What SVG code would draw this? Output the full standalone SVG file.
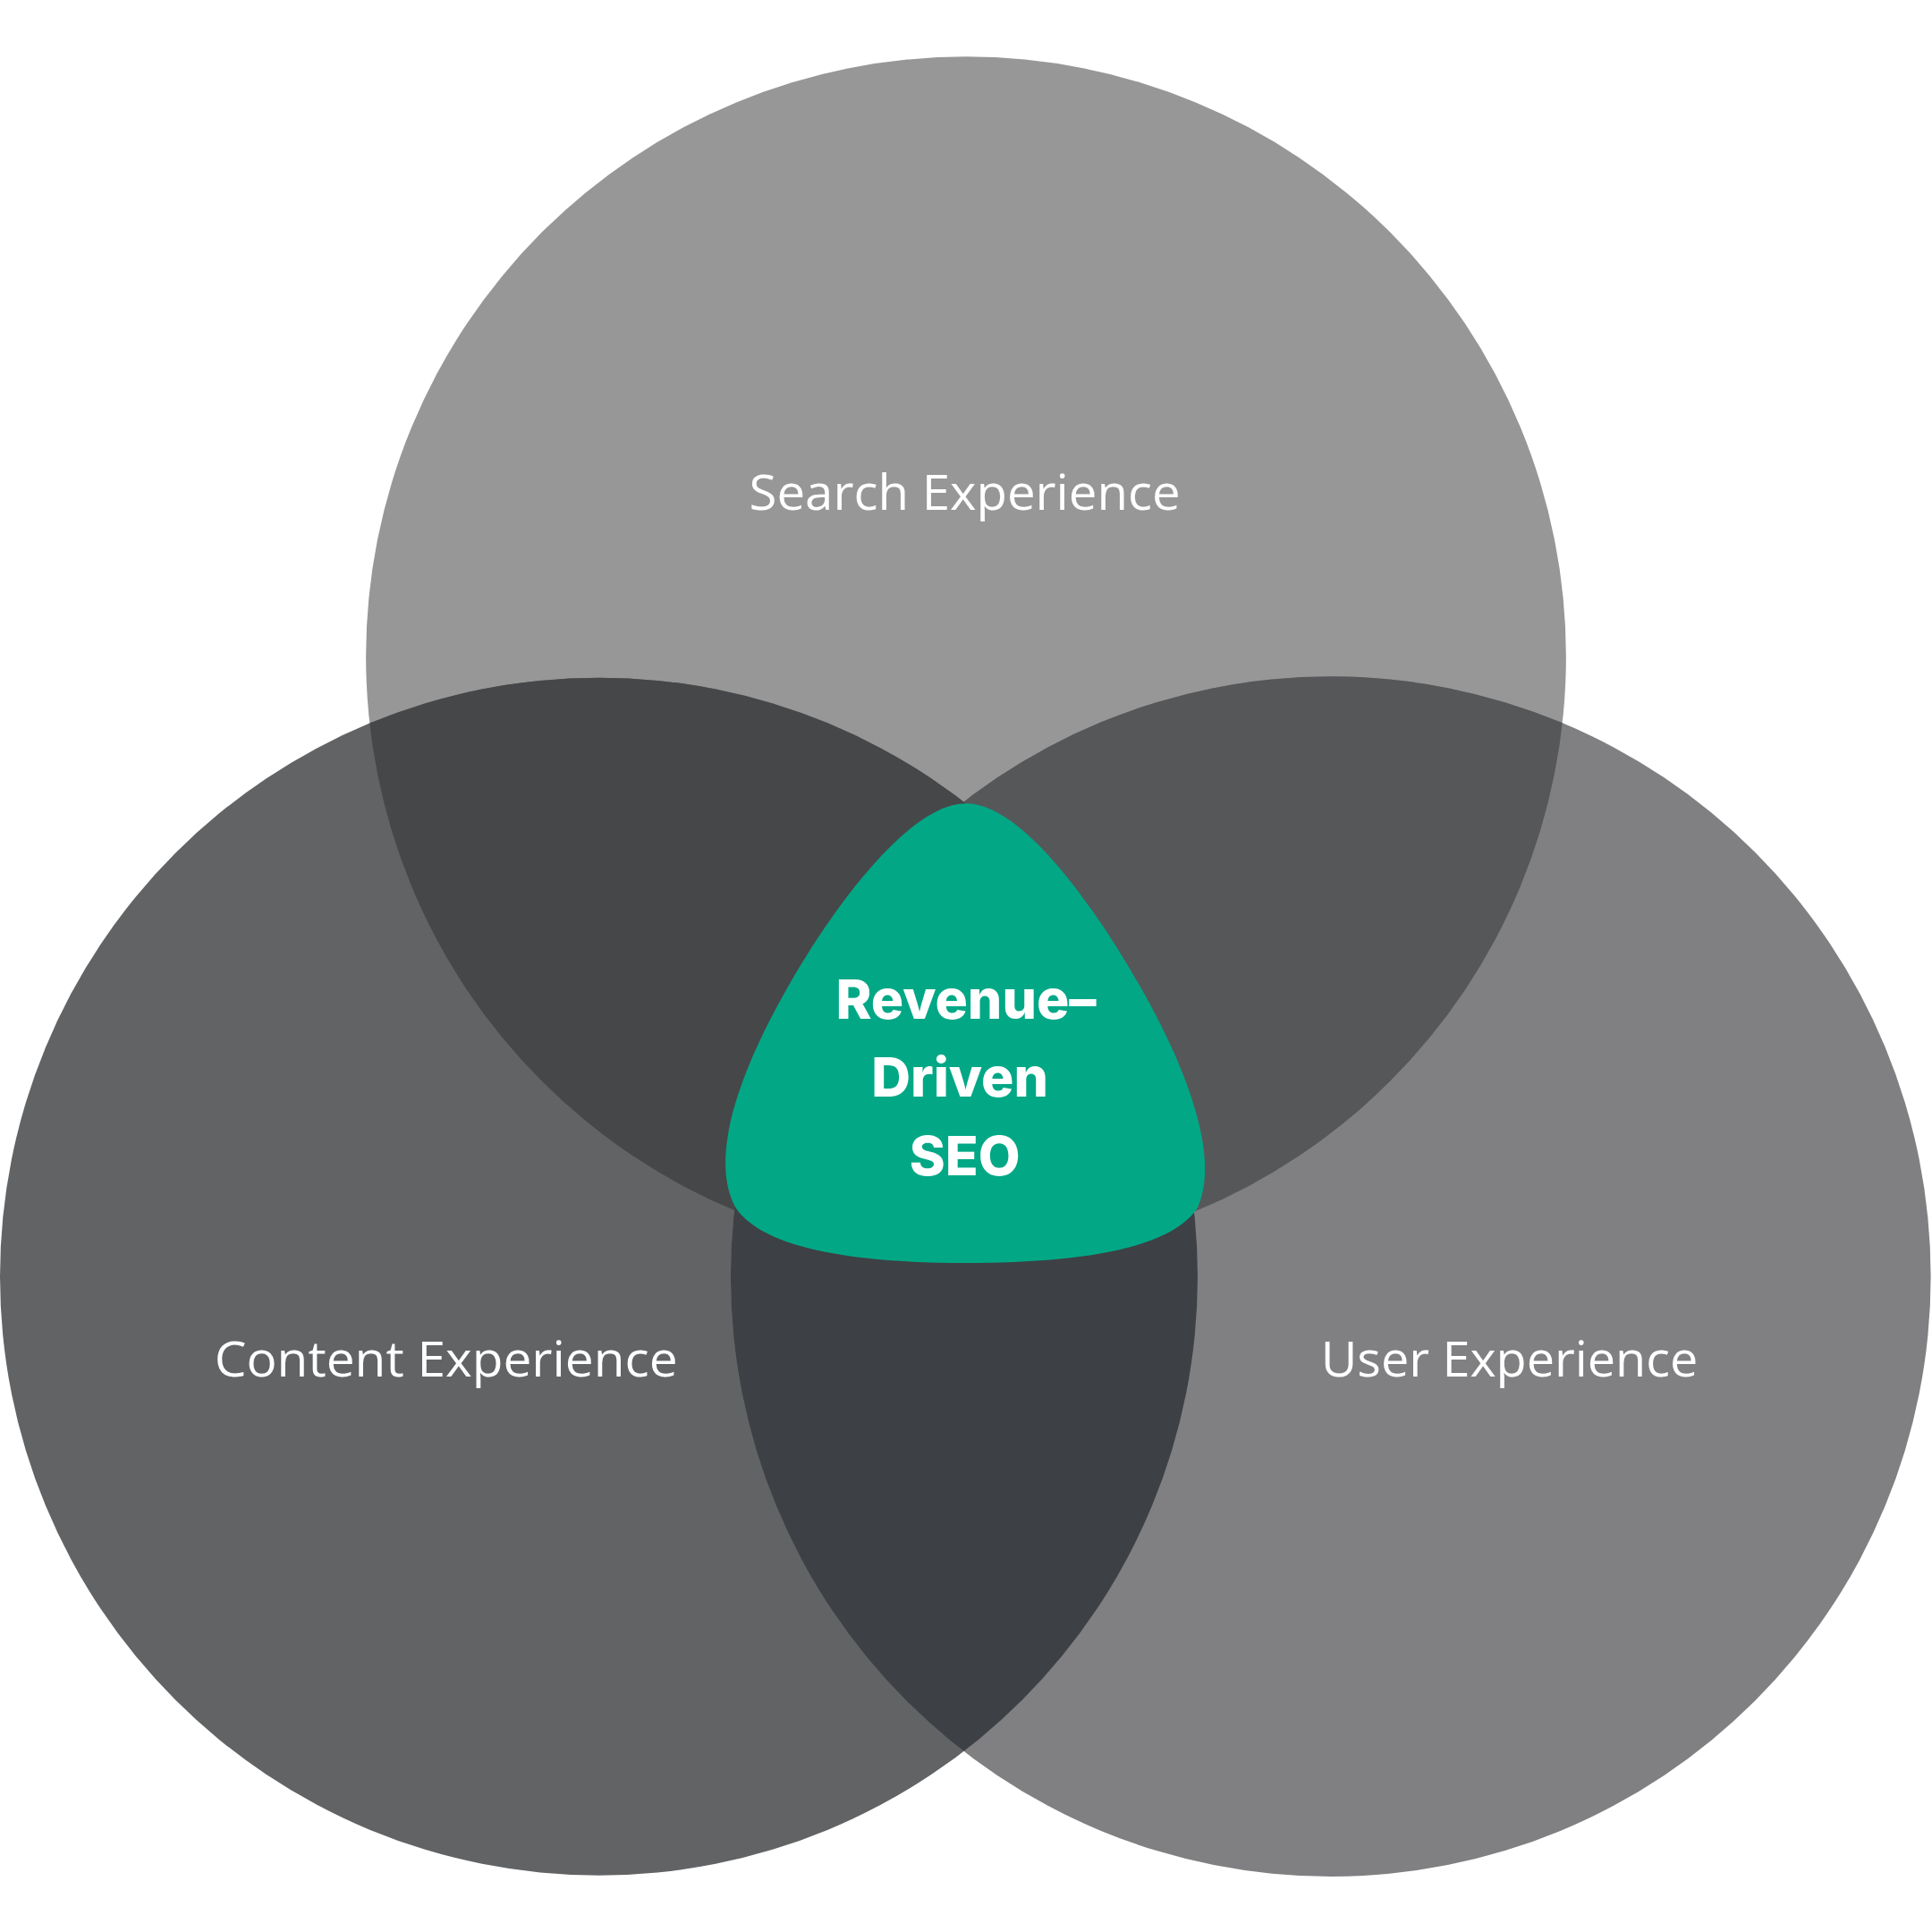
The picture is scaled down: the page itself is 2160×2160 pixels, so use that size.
<svg xmlns="http://www.w3.org/2000/svg" width="2160" height="2160" viewBox="0 0 2160 2160">
<defs>
<clipPath id="cT"><circle cx="784" cy="533" r="487"/></clipPath>
<clipPath id="cL"><circle cx="486" cy="1036" r="486"/></clipPath>
<clipPath id="cR"><circle cx="1080" cy="1036" r="487"/></clipPath>
<style>
.lbl{font-family:"Open Sans","Noto Sans",sans-serif;font-weight:400;font-size:40px;fill:#fff;text-anchor:middle}
.ctr{font-family:"Inter","Liberation Sans",sans-serif;font-weight:800;font-size:44px;fill:#fff;text-anchor:middle}
</style>
</defs>
<rect width="2160" height="2160" fill="#fff"/>
<g transform="scale(1.37755)">
<g id="search"><circle cx="784" cy="533" r="487" fill="#979797"/></g>
<g id="content"><circle cx="486" cy="1036" r="486" fill="#616365"/></g>
<g id="user"><circle cx="1080" cy="1036" r="487" fill="#808082"/></g>
<g id="overlaps">
<g clip-path="url(#cT)"><circle cx="486" cy="1036" r="486" fill="#464749"/><circle cx="1080" cy="1036" r="487" fill="#565759"/></g>
<g clip-path="url(#cL)"><circle cx="1080" cy="1036" r="487" fill="#3d4044"/></g>
</g>
<g id="center">
<path d="M784,652 C740,652 680,730 640,800 C600,870 575,940 597,980 C620,1015 700,1025 784,1025 C870,1025 950,1015 972,980 C990,940 965,870 925,800 C885,730 828,652 784,652 Z" fill="#02a886"/>
<text class="ctr" x="784" y="827">Revenue–</text>
<text class="ctr" x="779" y="890">Driven</text>
<text class="ctr" x="783" y="954">SEO</text>
</g>
<g id="labels">
<text class="lbl" x="783" y="414" textLength="350" lengthAdjust="spacingAndGlyphs">Search Experience</text>
<text class="lbl" x="362" y="1117" textLength="376" lengthAdjust="spacingAndGlyphs">Content Experience</text>
<text class="lbl" x="1225" y="1117" textLength="306" lengthAdjust="spacingAndGlyphs">User Experience</text>
</g>
</g>
<g id="connectors"/>
</svg>
